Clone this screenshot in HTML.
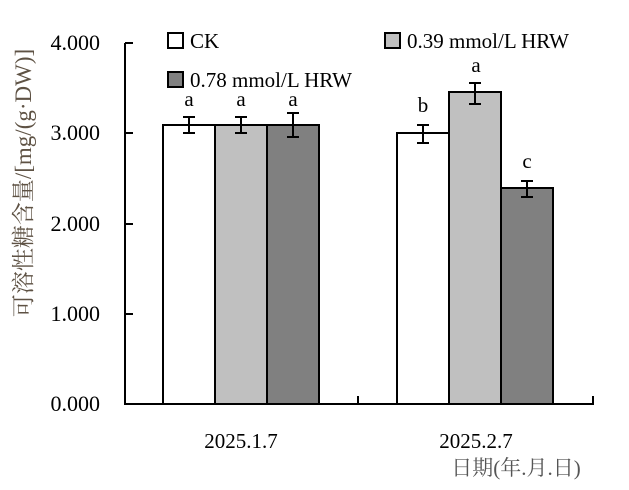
<!DOCTYPE html>
<html><head><meta charset="utf-8"><style>body{margin:0;background:#fff}svg{display:block}</style></head><body>
<svg width="629" height="490" xmlns="http://www.w3.org/2000/svg">
<g stroke="#000" stroke-width="2">
<rect x="163" y="125" width="52" height="279" fill="#fff"/>
<rect x="215" y="125" width="52" height="279" fill="#c0c0c0"/>
<rect x="267" y="125" width="52" height="279" fill="#808080"/>
<rect x="397" y="133" width="52" height="271" fill="#fff"/>
<rect x="449" y="92" width="52" height="312" fill="#c0c0c0"/>
<rect x="501" y="188" width="52" height="216" fill="#808080"/>
<path d="M125 43V404H593V396M358 404V396M125 43h8M125 133h8M125 224h8M125 314h8" fill="none"/>
<path d="M189 117v16M183 117h12M183 133h12M241 117v16M235 117h12M235 133h12M293 113v24M287 113h12M287 137h12M423 125v18M417 125h12M417 143h12M475 83v21M469 83h12M469 104h12M527 181v16M521 181h12M521 197h12" fill="none"/>
<rect x="168" y="33" width="15" height="15" fill="#fff"/>
<rect x="385" y="33" width="15" height="15" fill="#c0c0c0"/>
<rect x="168" y="72" width="15" height="15" fill="#808080"/>
</g>
<g font-family="Liberation Serif, DejaVu Serif, serif">
<g font-size="21" fill="#000">
<text x="190" y="48">CK</text>
<text x="407" y="48">0.39 mmol/L HRW</text>
<text x="190" y="87">0.78 mmol/L HRW</text>
</g>
<g font-size="21" text-anchor="middle">
<text x="189" y="106">a</text><text x="241" y="106">a</text><text x="293" y="106">a</text>
<text x="423" y="112">b</text><text x="476" y="72">a</text><text x="527" y="168">c</text>
</g>
<g font-size="22" text-anchor="end">
<text x="100" y="50">4.000</text><text x="100" y="140">3.000</text><text x="100" y="231">2.000</text><text x="100" y="321">1.000</text><text x="100" y="411">0.000</text>
</g>
<g font-size="21" text-anchor="middle">
<text x="241" y="448">2025.1.7</text><text x="476" y="448">2025.2.7</text>
</g>
</g>
<g font-family="Liberation Serif, Noto Serif CJK SC, serif">
<text x="516" y="475" font-size="21" text-anchor="middle" fill="#555">日期(年.月.日)</text>
<text transform="translate(31,183) rotate(-90)" font-size="23" text-anchor="middle" fill="#5e5244">可溶性糖含量/[mg/(g·DW)]</text>
</g>
</svg>
</body></html>
